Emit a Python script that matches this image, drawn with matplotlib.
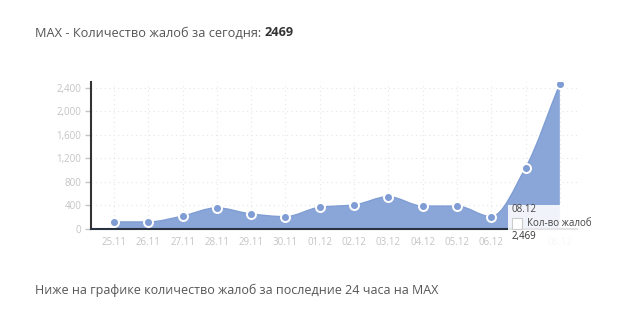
import numpy as np
import matplotlib.pyplot as plt
from matplotlib.path import Path
from matplotlib.patches import PathPatch, Rectangle

plt.rcParams['font.family'] = ['Open Sans', 'DejaVu Sans']

# Данные
dias = ['25.11', '26.11', '27.11', '28.11', '29.11', '30.11', '01.12',
        '02.12', '03.12', '04.12', '05.12', '06.12', '07.12', '08.12']
zhaloby = [120, 120, 220, 360, 255, 210, 370, 410, 550, 390, 390, 210, 1040, 2469]
yticks = [0, 400, 800, 1200, 1600, 2000, 2400]

azul = '#8aa6d8'
azul_marc = '#7f9dd4'

def curva(xs, ys):  # monotone cubic -> pontos de Bezier
    xs = np.asarray(xs, float); ys = np.asarray(ys, float)
    n = len(xs)
    d = np.diff(ys) / np.diff(xs)
    m = np.zeros(n)
    m[0] = d[0]; m[-1] = d[-1]
    for i in range(1, n - 1):
        if d[i - 1] * d[i] <= 0:
            m[i] = 0
        else:
            m[i] = 2 / (1 / d[i - 1] + 1 / d[i])
    verts = [(xs[0], ys[0])]
    codes = [Path.MOVETO]
    for i in range(n - 1):
        h = xs[i + 1] - xs[i]
        verts += [(xs[i] + h / 3, ys[i] + m[i] * h / 3),
                  (xs[i + 1] - h / 3, ys[i + 1] - m[i + 1] * h / 3),
                  (xs[i + 1], ys[i + 1])]
        codes += [Path.CURVE4] * 3
    return verts, codes

fig = plt.figure(figsize=(6.3, 3.3), dpi=100)
ax = fig.add_axes([91 / 630, 101 / 330, 486 / 630, 147 / 330])

x = np.arange(len(dias))
verts, codes = curva(x, zhaloby)
verts_f = verts + [(x[-1], 0), (x[0], 0), (x[0], zhaloby[0])]
codes_f = codes + [Path.LINETO, Path.LINETO, Path.CLOSEPOLY]
ax.add_patch(PathPatch(Path(verts_f, codes_f), facecolor=azul, edgecolor='none', zorder=2))
ax.add_patch(PathPatch(Path(verts, codes), facecolor='none', edgecolor=azul_marc, lw=1, zorder=3))
ax.scatter(x, zhaloby, s=42, color=azul_marc, edgecolor='white', linewidth=1.4, zorder=4)

ax.set_xlim(-0.67, 13.5)
ax.set_ylim(0, 2500)
ax.set_yticks(yticks)
ax.set_yticklabels(['{:,}'.format(v) for v in yticks])
ax.set_xticks(x)
ax.set_xticklabels(dias)
ax.tick_params(axis='y', labelsize=7, colors='#c4c4c4', length=4, width=1, pad=3)
ax.tick_params(axis='x', labelsize=7, colors='#c4c4c4', length=0, pad=6)
for t in ax.get_yticklines():
    t.set_color('#333333')
# 07.12 fica escondido atrás do tooltip
ax.get_xticklabels()[12].set_visible(False)
ax.grid(axis='both', color='#e6e6e6', linestyle=(0, (1, 3)), linewidth=0.8)
ax.set_axisbelow(True)
for s in ['top', 'right']:
    ax.spines[s].set_visible(False)
ax.spines['left'].set_color('#333333')
ax.spines['left'].set_linewidth(1.5)
ax.spines['bottom'].set_color('#2a3140')
ax.spines['bottom'].set_linewidth(1.5)

# Tooltip
fig.patches.append(Rectangle((508 / 630, 84 / 330), 92 / 630, 41 / 330, transform=fig.transFigure,
                             facecolor='white', alpha=0.88, edgecolor='none', zorder=5))
fig.patches.append(Rectangle((512 / 630, 101 / 330), 10 / 630, 11 / 330, transform=fig.transFigure,
                             facecolor='white', edgecolor='#cccccc', lw=0.8, zorder=6))
fig.text(512 / 630, 1 - 209 / 330, dias[-1], fontsize=7, color='#444444', va='center', zorder=7)
fig.text(527 / 630, 1 - 223 / 330, 'Кол-во жалоб', fontsize=7, color='#444444', va='center', zorder=7)
fig.text(512 / 630, 1 - 237 / 330, '{:,}'.format(zhaloby[-1]), fontsize=7, color='#333333', va='center', zorder=7)

# Textos
t = fig.text(35 / 630, 1 - 33 / 330, 'MAX - Количество жалоб за сегодня: ', fontsize=9.2,
             color='#555555', va='center')
fig.canvas.draw()
bb = t.get_window_extent()
fig.text(bb.x1 / 630, 1 - 33 / 330, str(zhaloby[-1]), fontsize=9.2, color='#333333',
         fontweight='bold', va='center')
fig.text(35 / 630, 1 - 290 / 330, 'Ниже на графике количество жалоб за последние 24 часа на MAX',
         fontsize=9, color='#555555', va='center')

fig.savefig('out.png', dpi=100)
